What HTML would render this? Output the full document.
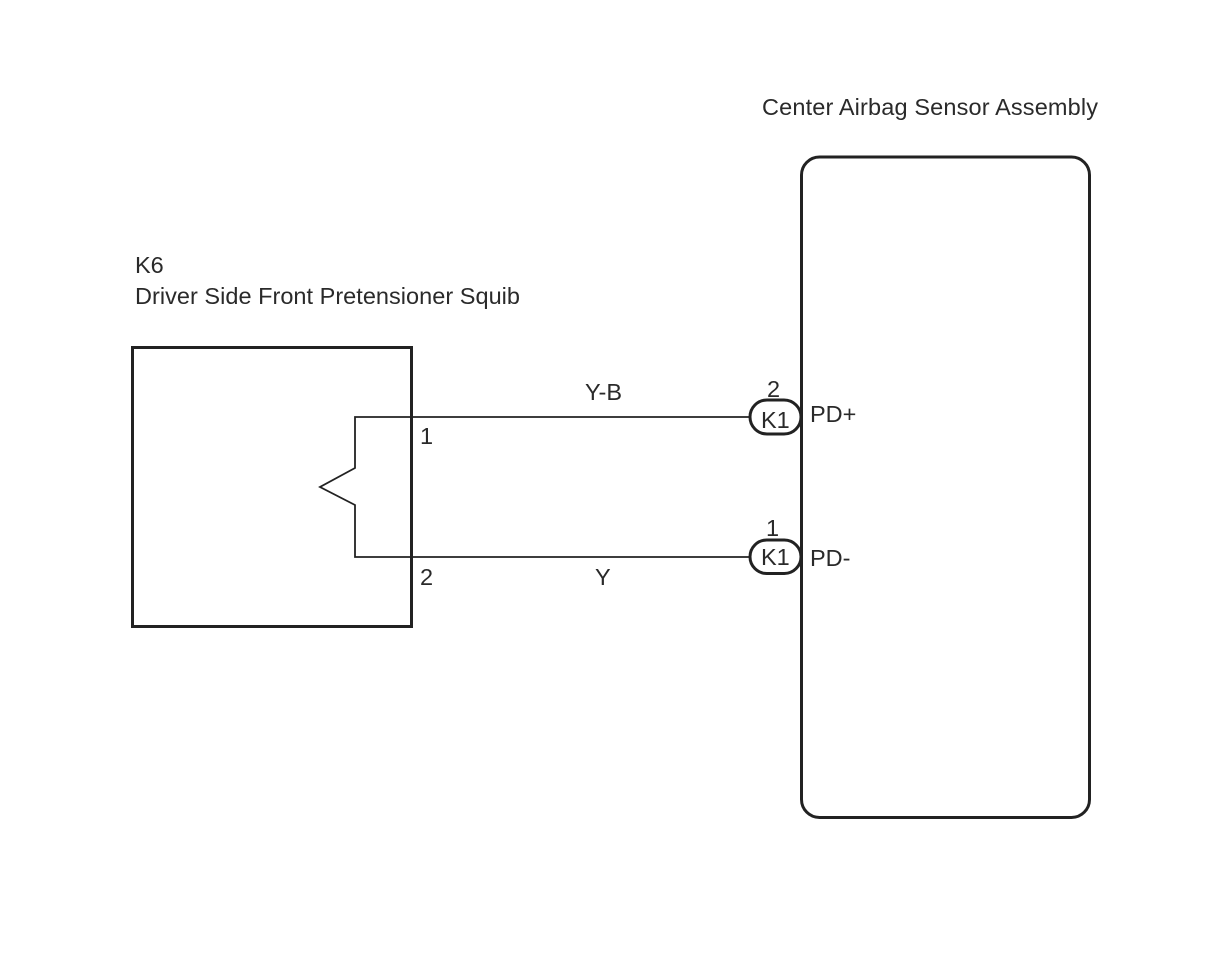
<!DOCTYPE html>
<html>
<head>
<meta charset="utf-8">
<style>
html,body{margin:0;padding:0;background:#fff;width:1212px;height:974px;overflow:hidden}
svg{display:block;filter:blur(0.35px)}
text{font-family:"Liberation Sans",Arial,sans-serif;font-size:23.5px;fill:#2a2a2a}
</style>
</head>
<body>
<svg width="1212" height="974" viewBox="0 0 1212 974" xmlns="http://www.w3.org/2000/svg">
<rect width="1212" height="974" fill="#fff"/>
<g fill="none" stroke="#222">
<rect x="132.5" y="347.5" width="279" height="279" stroke-width="3"/>
<rect x="801.5" y="157" width="288" height="660.5" rx="18" ry="18" stroke-width="3"/>
<path d="M750 417H355V468L320 487L355 505V557H750" stroke-width="1.8"/>
<rect x="750" y="400" width="51" height="34" rx="17" ry="17" fill="#fff" stroke-width="3"/>
<rect x="750" y="540" width="51" height="33.5" rx="16.75" ry="16.75" fill="#fff" stroke-width="3"/>
<path d="M801.5 380V600" stroke-width="3"/>
</g>
<text x="762" y="115" textLength="336" lengthAdjust="spacing">Center Airbag Sensor Assembly</text>
<text x="135" y="273">K6</text>
<text x="135" y="304" textLength="385" lengthAdjust="spacing">Driver Side Front Pretensioner Squib</text>
<text x="585" y="400">Y-B</text>
<text x="595" y="585">Y</text>
<text x="420" y="444">1</text>
<text x="420" y="585">2</text>
<text x="767" y="397">2</text>
<text x="766" y="536">1</text>
<text x="761" y="428">K1</text>
<text x="761" y="565">K1</text>
<text x="810" y="422">PD+</text>
<text x="810" y="566">PD-</text>
</svg>
</body>
</html>
